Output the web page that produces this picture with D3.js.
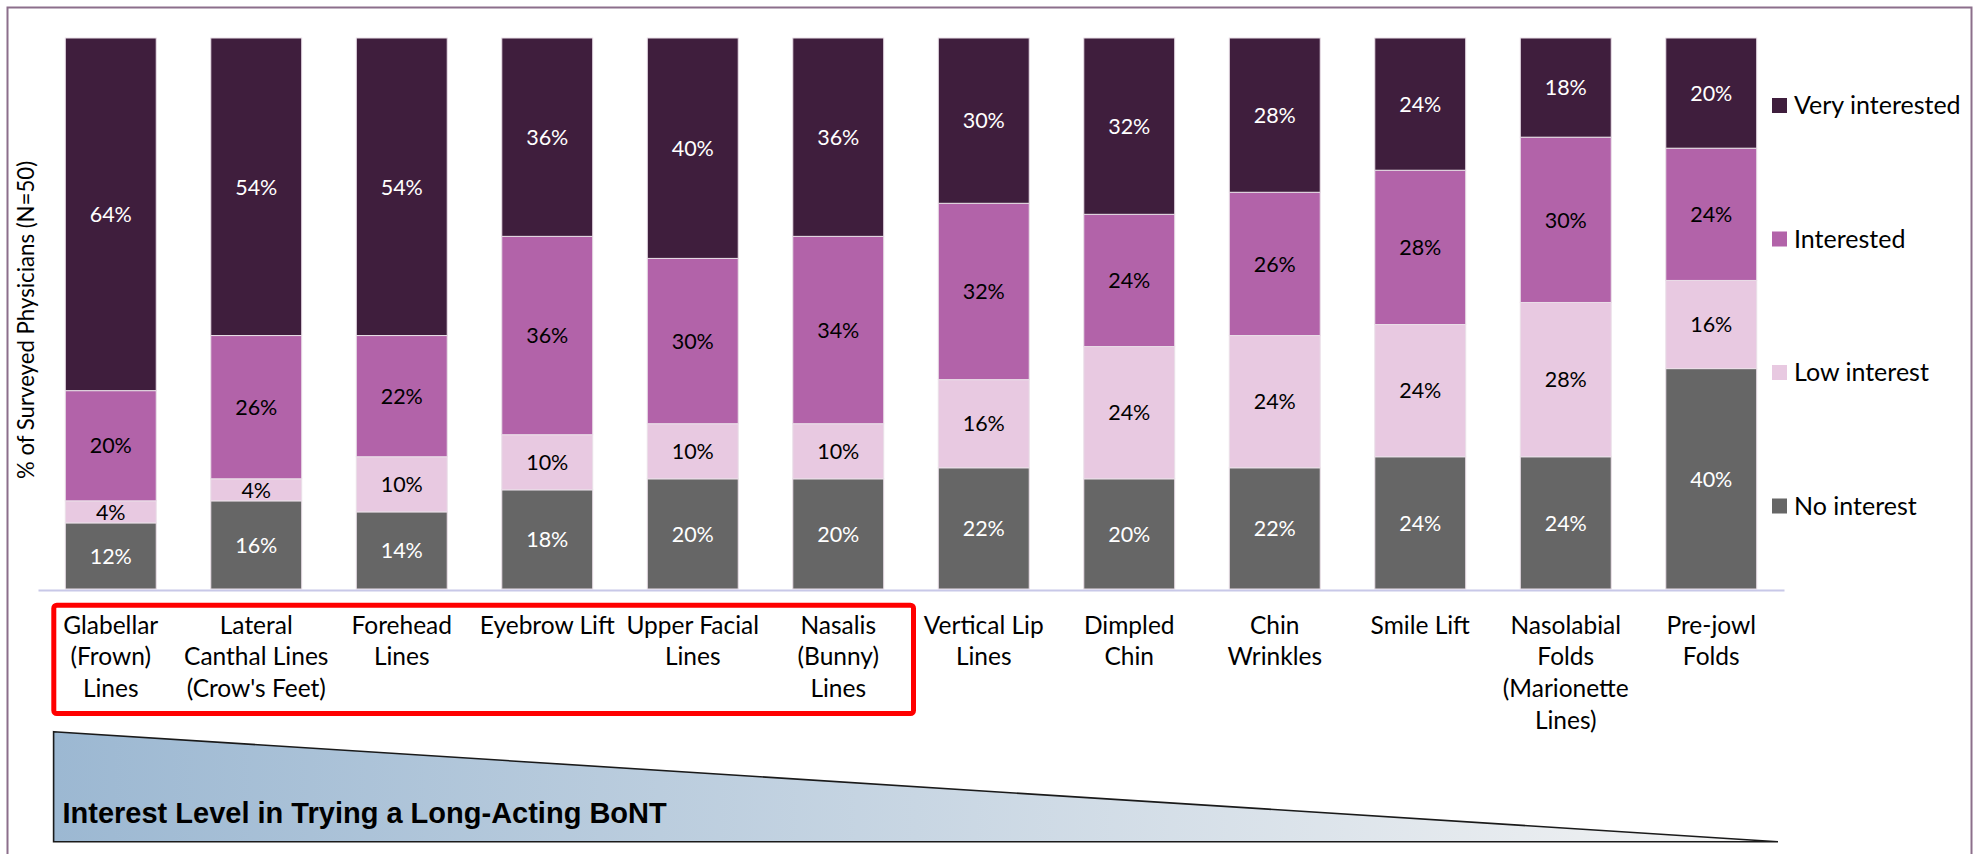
<!DOCTYPE html>
<html>
<head>
<meta charset="utf-8">
<script src="https://cdn.jsdelivr.net/npm/d3@7/dist/d3.min.js"></script>
<style>
  html, body { margin: 0; padding: 0; background: #ffffff; }
  svg { display: block; }
  .lbl { font-family: Lato, "Open Sans", sans-serif; }
</style>
</head>
<body>
<svg id="chart" width="1977" height="854"></svg>
<script>
// Treatment areas ("|" marks a line break in the axis label)
const categories = [
  "Glabellar|(Frown)|Lines",
  "Lateral|Canthal Lines|(Crow's Feet)",
  "Forehead|Lines",
  "Eyebrow Lift",
  "Upper Facial|Lines",
  "Nasalis|(Bunny)|Lines",
  "Vertical Lip|Lines",
  "Dimpled|Chin",
  "Chin|Wrinkles",
  "Smile Lift",
  "Nasolabial|Folds|(Marionette|Lines)",
  "Pre-jowl|Folds"
];

// Share of surveyed physicians (%) per interest level
const noInterest     = [12, 16, 14, 18, 20, 20, 22, 20, 22, 24, 24, 40];
const lowInterest    = [ 4,  4, 10, 10, 10, 10, 16, 24, 24, 24, 28, 16];
const interested     = [20, 26, 22, 36, 30, 34, 32, 24, 26, 28, 30, 24];
const veryInterested = [64, 54, 54, 36, 40, 36, 30, 32, 28, 24, 18, 20];

const seriesKeys   = ["No interest", "Low interest", "Interested", "Very interested"];
const seriesValues = [noInterest, lowInterest, interested, veryInterested];
const seriesColors = ["#666666", "#e8c9e1", "#b263a9", "#3f1e3d"];
const labelColors  = ["#ffffff", "#000000", "#000000", "#ffffff"];

const yTitle = "% of Surveyed Physicians (N=50)";
const bannerText = "Interest Level in Trying a Long-Acting BoNT";

const svg = d3.select("#chart");

// outer frame
svg.append("rect")
  .attr("x", 7.5).attr("y", 7.5)
  .attr("width", 1964).attr("height", 900)
  .attr("fill", "none")
  .attr("stroke", "#8c6f8b")
  .attr("stroke-width", 2);

const rows = categories.map((c, i) => {
  const r = { cat: c };
  seriesKeys.forEach((k, j) => { r[k] = seriesValues[j][i]; });
  return r;
});

const x = d3.scaleBand()
  .domain(categories)
  .range([38, 1784])
  .paddingInner(0.375)
  .paddingOuter(0.1875);

const y = d3.scaleLinear().domain([0, 100]).range([589, 38]);

const stacked = d3.stack().keys(seriesKeys)(rows);

const layers = svg.append("g").selectAll("g")
  .data(stacked)
  .join("g")
  .attr("fill", (d, i) => seriesColors[i]);

layers.selectAll("rect")
  .data(d => d)
  .join("rect")
  .attr("x", d => x(d.data.cat))
  .attr("width", x.bandwidth())
  .attr("y", d => y(d[1]))
  .attr("height", d => y(d[0]) - y(d[1]))
  .attr("stroke", "#eadfe8")
  .attr("stroke-width", 1);

// value labels inside each segment
stacked.forEach((layer, i) => {
  svg.append("g").selectAll("text")
    .data(layer)
    .join("text")
    .attr("class", "lbl")
    .attr("x", d => x(d.data.cat) + x.bandwidth() / 2)
    .attr("y", d => (y(d[0]) + y(d[1])) / 2)
    .attr("dy", "0.36em")
    .attr("text-anchor", "middle")
    .attr("font-size", 21.5)
    .attr("fill", labelColors[i])
    .text(d => (d[1] - d[0]) + "%");
});

// category axis
const xAxis = svg.append("g")
  .attr("transform", "translate(0,590)")
  .call(d3.axisBottom(x).tickSize(0).tickFormat(""));
xAxis.select(".domain").attr("stroke", "#c8c8e8").attr("stroke-width", 2);

xAxis.selectAll(".tick").each(function (d) {
  const t = d3.select(this).append("text")
    .attr("class", "lbl")
    .attr("y", 43.5)
    .attr("text-anchor", "middle")
    .attr("font-size", 24.5)
    .attr("fill", "#000000");
  d.split("|").forEach((line, k) => {
    t.append("tspan").attr("x", 0).attr("dy", k === 0 ? 0 : 31.7).text(line);
  });
});

// y title
svg.append("text")
  .attr("class", "lbl")
  .attr("transform", "translate(34,320) rotate(-90)")
  .attr("text-anchor", "middle")
  .attr("font-size", 22.2)
  .attr("fill", "#000000")
  .text(yTitle);

// legend (top to bottom: Very interested ... No interest)
const legendOrder = [3, 2, 1, 0];
const legendY = d3.scalePoint().domain(legendOrder).range([105.5, 506]);
const legend = svg.append("g").selectAll("g")
  .data(legendOrder)
  .join("g")
  .attr("transform", i => `translate(1772,${legendY(i)})`);
legend.append("rect")
  .attr("x", 0).attr("y", -7.5)
  .attr("width", 15).attr("height", 15)
  .attr("fill", i => seriesColors[i]);
legend.append("text")
  .attr("class", "lbl")
  .attr("x", 22).attr("y", 8.5)
  .attr("font-size", 25)
  .attr("fill", "#000000")
  .text(i => seriesKeys[i]);

// highlight box around the upper-face areas
svg.append("rect")
  .attr("x", 53.8).attr("y", 605.2)
  .attr("width", 859.7).attr("height", 108.3)
  .attr("rx", 3)
  .attr("fill", "none")
  .attr("stroke", "#ff0000")
  .attr("stroke-width", 5);

// tapering banner
const defs = svg.append("defs");
const grad = defs.append("linearGradient")
  .attr("id", "bannerGrad")
  .attr("x1", "0%").attr("x2", "100%").attr("y1", "0%").attr("y2", "0%");
grad.append("stop").attr("offset", "0%").attr("stop-color", "#9cb8d2");
grad.append("stop").attr("offset", "100%").attr("stop-color", "#f4f4f4");

svg.append("path")
  .attr("d", "M53.6,731.7 L1778,841.7 L53.6,841.7 Z")
  .attr("fill", "url(#bannerGrad)")
  .attr("stroke", "#1a1a1a")
  .attr("stroke-width", 1.6)
  .attr("stroke-linejoin", "miter");

svg.append("text")
  .attr("x", 62.5).attr("y", 823)
  .attr("font-family", "'Liberation Sans', Arial, sans-serif")
  .attr("font-weight", "bold")
  .attr("font-size", 29)
  .attr("fill", "#000000")
  .text(bannerText);
</script>
</body>
</html>
